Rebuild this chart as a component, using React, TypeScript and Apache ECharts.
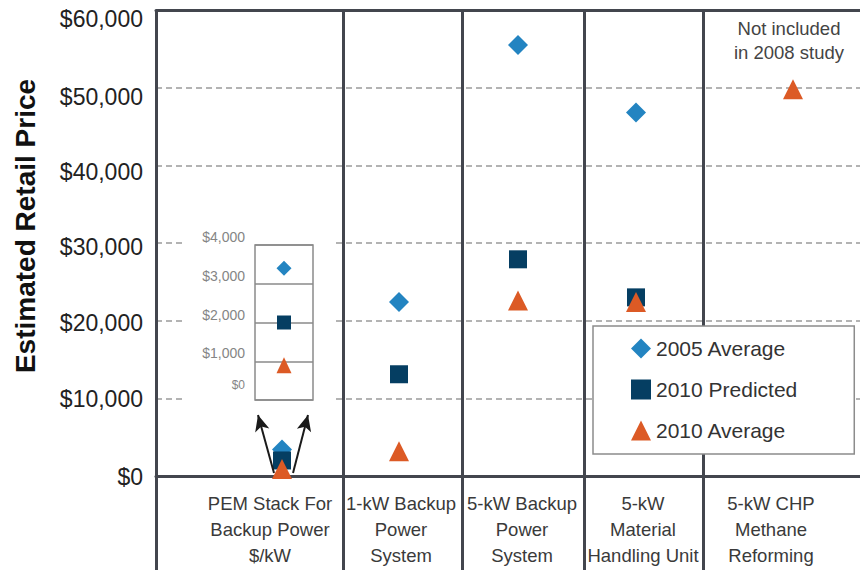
import React, { useEffect, useRef } from "react";
import * as echarts from "echarts";

// ---- data ----
const categories = [
  "PEM Stack For\nBackup Power\n$/kW",
  "1-kW Backup\nPower\nSystem",
  "5-kW Backup\nPower\nSystem",
  "5-kW\nMaterial\nHandling Unit",
  "5-kW CHP\nMethane\nReforming",
];
const seriesNames = ["2005 Average", "2010 Predicted", "2010 Average"];
const avg2005: (number | null)[] = [3400, 22400, 55500, 46800, null];
const predicted2010: (number | null)[] = [2000, 13100, 27900, 23000, null];
const avg2010: (number | null)[] = [900, 3200, 22600, 22400, 49800];
const noteText = "Not included\nin 2008 study";

// ---- layout (horizontal positions in axis units 0..X_MAX) ----
const X_MAX = 704;
const COLUMN_EDGES = [0, 187, 306, 428, 547];
const MARKER_X = [126, 243, 362, 480, 637];
const LABEL_X = [114, 245, 366, 487, 615];
const NOTE_POS = [633, 56100];
const ARROWS = [
  [[118, 390], [102, 7850]],
  [[137, 390], [152, 7850]],
];
const INSET = { left: 255, top: 245, width: 58, height: 155 };
// small downward shift of main y labels (px), per tick from $0 upward
const Y_LABEL_SHIFT = [1, 1, 2, 4, 7, 9, 9];

const FONT = '"Liberation Sans", Arial, Helvetica, sans-serif';
const COLORS = ["#2384c1", "#053e62", "#dc5a25"];
const SYMBOLS = ["diamond", "rect", "triangle"];
const MAIN_SIZES: any[] = [20, 18, [20, 20]];
const INSET_SIZES: any[] = [15, 14, [15, 16]];
const DARK = "#43464e";

const money = (v: number) => "$" + v.toLocaleString("en-US");

export default function App() {
  const ref = useRef<HTMLDivElement>(null);
  useEffect(() => {
    if (!ref.current) return;
    const chart = echarts.init(ref.current, undefined, { renderer: "svg" });
    const all = [avg2005, predicted2010, avg2010];

    const yRich: Record<string, any> = {};
    Y_LABEL_SHIFT.forEach((s, i) => {
      yRich["s" + i] = {
        fontSize: 23,
        color: "#222",
        fontFamily: FONT,
        padding: [s * 2, 0, 0, 0],
      };
    });

    const mainSeries = all.map((arr, s) => ({
      type: "scatter",
      name: seriesNames[s],
      xAxisIndex: 0,
      yAxisIndex: 0,
      symbol: SYMBOLS[s],
      symbolSize: MAIN_SIZES[s],
      itemStyle: { color: COLORS[s], opacity: 1 },
      z: 2 + s,
      data: arr
        .map((v, i) => (v == null ? null : [MARKER_X[i], v]))
        .filter((d) => d !== null),
      ...(s === 2
        ? {
            markLine: {
              silent: true,
              symbol: ["none", "arrow"],
              symbolSize: [11, 16],
              lineStyle: { color: "#1a1a1a", width: 2, type: "solid" },
              label: { show: false },
              data: ARROWS.map(([a, b]) => [{ coord: a }, { coord: b }]),
            },
            markPoint: {
              silent: true,
              symbol: "circle",
              symbolSize: 0,
              label: {
                show: true,
                position: "inside",
                formatter: noteText,
                fontSize: 18.5,
                lineHeight: 24,
                color: "#444",
                fontFamily: FONT,
              },
              data: [{ coord: NOTE_POS }],
            },
          }
        : {}),
    }));

    const insetSeries = all.map((arr, s) => ({
      type: "scatter",
      name: seriesNames[s],
      xAxisIndex: 2,
      yAxisIndex: 1,
      symbol: SYMBOLS[s],
      symbolSize: INSET_SIZES[s],
      itemStyle: { color: COLORS[s], opacity: 1 },
      z: 5 + s,
      data: arr[0] == null ? [] : [[0.5, arr[0]]],
    }));

    chart.setOption({
      animation: false,
      backgroundColor: "#ffffff",
      textStyle: { fontFamily: FONT },
      legend: {
        orient: "vertical",
        left: 593,
        top: 326,
        itemWidth: 20,
        itemHeight: 20,
        itemGap: 20,
        padding: [12, 57, 13, 38],
        backgroundColor: "#ffffff",
        borderColor: "#8c8c8c",
        borderWidth: 1.5,
        selectedMode: false,
        z: 10,
        textStyle: { fontSize: 21, color: "#333", fontFamily: FONT, lineHeight: 20 },
        data: seriesNames,
      },
      grid: [
        { left: 156, right: 0, top: 10, bottom: 96, containLabel: false },
        {
          left: INSET.left,
          top: INSET.top,
          width: INSET.width,
          height: INSET.height,
          show: true,
          backgroundColor: "#ffffff",
          borderColor: "#8a8a8a",
          borderWidth: 1.5,
          z: 3,
        },
      ],
      graphic: [
        {
          type: "rect",
          z: 1,
          shape: {
            x: INSET.left - 70,
            y: INSET.top - 18,
            width: INSET.width + 90,
            height: INSET.height + 23,
          },
          style: { fill: "#ffffff" },
        },
        {
          type: "text",
          x: 25,
          y: 226,
          rotation: Math.PI / 2,
          z: 5,
          style: {
            text: "Estimated Retail Price",
            fontSize: 28,
            fontWeight: "bold",
            fontFamily: FONT,
            fill: "#111",
            align: "center",
            verticalAlign: "middle",
            textAlign: "center",
            textVerticalAlign: "middle",
          },
        },
      ],
      xAxis: [
        {
          gridIndex: 0,
          type: "value",
          min: 0,
          max: X_MAX,
          position: "bottom",
          offset: 94,
          axisLine: { show: true, lineStyle: { color: DARK, width: 3 } },
          axisTick: { show: false },
          splitLine: { show: false },
          axisLabel: {
            show: true,
            inside: true,
            margin: 2,
            customValues: LABEL_X,
            formatter: (v: number) => {
              const i = LABEL_X.indexOf(v);
              return i >= 0 ? categories[i] : "";
            },
            fontSize: 18.5,
            lineHeight: 26,
            color: "#3a3a3a",
            fontFamily: FONT,
            align: "center",
          },
        },
        {
          gridIndex: 0,
          type: "value",
          min: 0,
          max: X_MAX,
          position: "top",
          axisLine: { show: true, lineStyle: { color: DARK, width: 3 } },
          axisTick: {
            show: true,
            inside: true,
            length: 560,
            customValues: COLUMN_EDGES,
            lineStyle: { color: DARK, width: 3 },
          },
          axisLabel: { show: false },
          splitLine: { show: false },
        },
        {
          gridIndex: 1,
          type: "value",
          min: 0,
          max: 1,
          show: false,
        },
      ],
      yAxis: [
        {
          gridIndex: 0,
          type: "value",
          min: 0,
          max: 60000,
          interval: 10000,
          axisLine: { show: false },
          axisTick: { show: false },
          splitLine: {
            show: true,
            lineStyle: { color: "#9a9a9a", width: 1.5, type: [6, 4] },
          },
          axisLabel: {
            formatter: (v: number) => `{s${Math.round(v / 10000)}|${money(v)}}`,
            rich: yRich,
            fontSize: 23,
            color: "#222",
            margin: 13,
            fontFamily: FONT,
          },
        },
        {
          gridIndex: 1,
          type: "value",
          min: 0,
          max: 4000,
          interval: 1000,
          z: 3,
          axisLine: { show: false },
          axisTick: { show: false },
          splitLine: {
            show: true,
            lineStyle: { color: "#8a8a8a", width: 1.5, type: "solid" },
          },
          axisLabel: {
            formatter: (v: number) => (v === 0 ? "{z|$0}" : money(v)),
            fontSize: 14,
            color: "#858585",
            margin: 10,
            verticalAlign: "bottom",
            padding: [0, 0, 1, 0],
            fontFamily: FONT,
            rich: {
              z: { fontSize: 12, color: "#858585", padding: [0, 0, 8, 0] },
            },
          },
        },
      ],
      series: [...mainSeries, ...insetSeries],
    });
    return () => chart.dispose();
  }, []);

  return (
    <div
      ref={ref}
      style={{ position: "absolute", left: 0, top: 0, width: 860, height: 572 }}
    />
  );
}
